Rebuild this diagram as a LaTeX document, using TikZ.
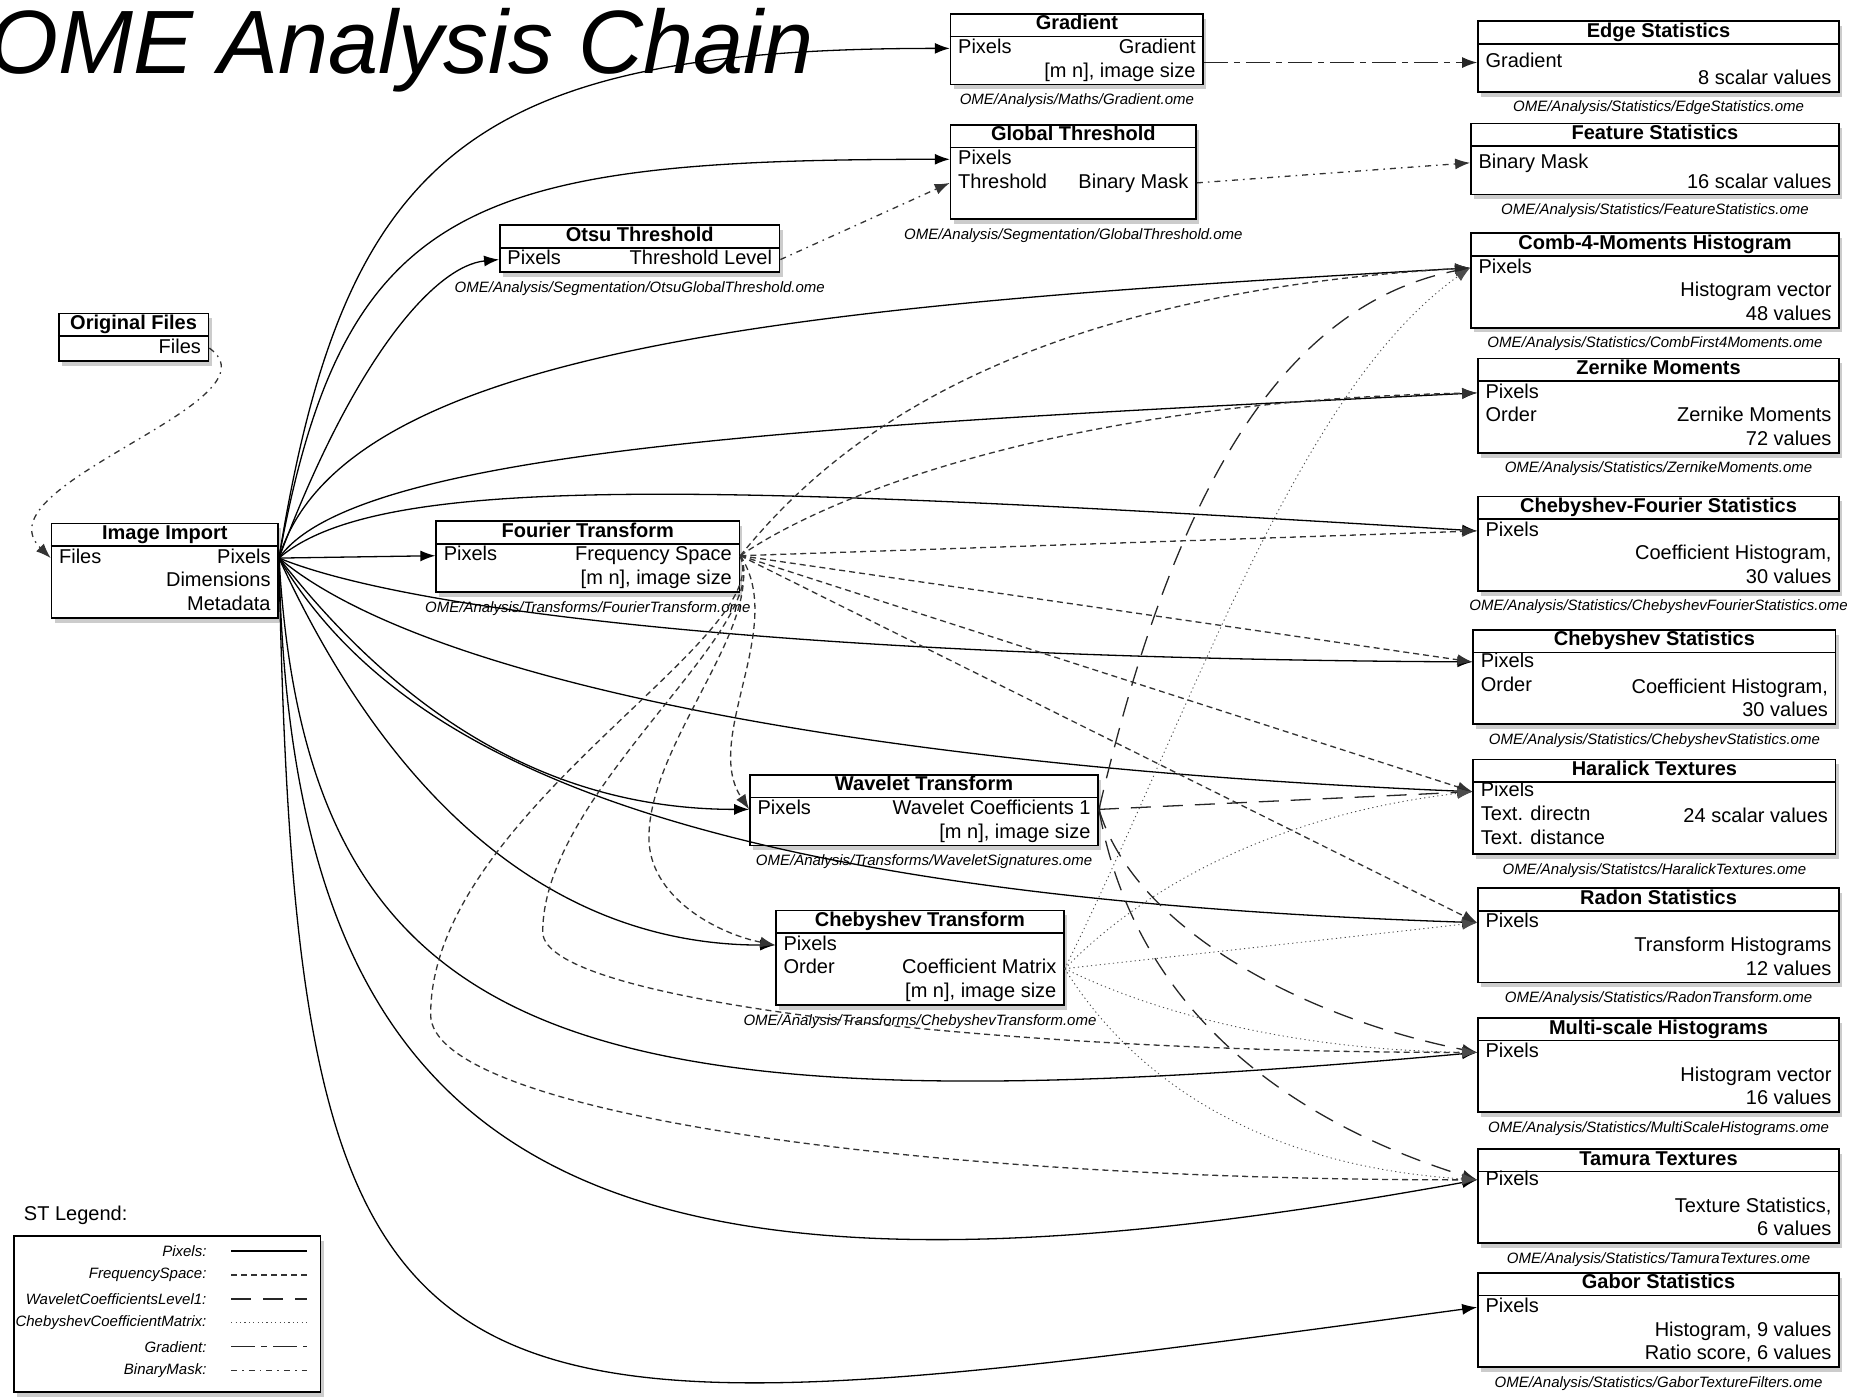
\documentclass[tikz,border=0pt]{standalone}
\usepackage{fontspec}
\setmainfont{Liberation Sans}
\usetikzlibrary{arrows.meta,shadows,calc,positioning}

\tikzset{
  modbox/.style={draw, line width=0.85pt, fill=white, inner sep=0pt,
    drop shadow={opacity=0.4, shadow xshift=1.5pt, shadow yshift=-2.4pt}},
  modtitle/.style={font=\fontsize{10}{12}\selectfont\bfseries, inner sep=0pt, text height=7.2pt, text depth=2pt},
  port/.style={font=\fontsize{10}{12}\selectfont, inner xsep=4pt, inner ysep=0pt, text height=7.2pt, text depth=2pt},
  modpath/.style={font=\fontsize{7.5}{9}\selectfont\itshape, inner sep=1pt},
  omefile/.style={label={[modpath, yshift=-3pt]below:#1}},
  pix/.style={->, line width=0.65pt},
  freq/.style={->, line width=0.65pt, black!80, dash pattern=on 3pt off 2pt},
  wave/.style={->, line width=0.65pt, black!85, dash pattern=on 10pt off 6pt},
  cheb/.style={->, line width=0.45pt, black!70, dash pattern=on 0.6pt off 1.6pt},
  grad/.style={->, line width=0.65pt, black!85, dash pattern=on 12pt off 3pt on 3pt off 3pt},
  mask/.style={->, line width=0.65pt, black!80, dash pattern=on 3pt off 2.5pt on 0.8pt off 2.5pt},
}

% box with a title row: [options]{name}{left}{top}{width}{rows}{title}
\newcommand\module[7][]{%
  \node[modbox, anchor=north west, minimum width=0.59pt*#5, minimum height=11.8pt*(#6+1), #1] (#2) at (#3,#4) {};
  \node[modtitle] (#2-title) at ($(#2.north)+(0,10)$) {#7};
  \draw[line width=0.85pt] ($(#2.north west)+(0,20)$) -- ($(#2.north east)+(0,20)$);
}
\newcommand\inport[4]{\node[port, anchor=west] (#1) at ($(#2.north west)+(0,{10+20*#3})$) {#4};}
\newcommand\outport[4]{\node[port, anchor=east] (#1) at ($(#2.north east)+(0,{10+20*#3})$) {#4};}

\begin{document}
\begin{tikzpicture}[x=0.59pt, y=-0.59pt, >={Latex[length=7.5pt,width=5.5pt]}]
    \useasboundingbox (0,0) rectangle (1568,1184);

    \node[font=\fontsize{45}{50}\selectfont\itshape, anchor=base west, inner sep=0pt] (title) at (-10,62) {OME Analysis Chain};

    % input side
    \module{orig}{49}{265}{127}{1}{Original Files}
    \outport{orig-f}{orig}{1}{Files}

    \module{ii}{43}{443}{192}{3}{Image Import}
    \inport{ii-f}{ii}{1}{Files}
    \outport{ii-pix}{ii}{1}{Pixels}
    \outport{ii-dim}{ii}{2}{Dimensions}
    \outport{ii-meta}{ii}{3}{Metadata}

    % transforms and thresholds
    \module[omefile=OME/Analysis/Maths/Gradient.ome]{gradient}{805}{11}{214}{2}{Gradient}
    \inport{gradient-pix}{gradient}{1}{Pixels}
    \outport{gradient-g}{gradient}{1}{Gradient}
    \outport{gradient-size}{gradient}{2}{[m n], image size}

    \module[omefile=OME/Analysis/Segmentation/GlobalThreshold.ome]{gthr}{805}{105}{208}{3}{Global Threshold}
    \inport{gthr-pix}{gthr}{1}{Pixels}
    \inport{gthr-th}{gthr}{2}{Threshold}
    \outport{gthr-bm}{gthr}{2}{Binary Mask}

    \module[omefile=OME/Analysis/Segmentation/OtsuGlobalThreshold.ome]{otsu}{423}{190}{237}{1}{Otsu Threshold}
    \inport{otsu-pix}{otsu}{1}{Pixels}
    \outport{otsu-tl}{otsu}{1}{Threshold Level}

    \module[omefile=OME/Analysis/Transforms/FourierTransform.ome]{ft}{369}{441}{257}{2}{Fourier Transform}
    \inport{ft-pix}{ft}{1}{Pixels}
    \outport{ft-fs}{ft}{1}{Frequency Space}
    \outport{ft-size}{ft}{2}{[m n], image size}

    \module[omefile=OME/Analysis/Transforms/WaveletSignatures.ome]{wt}{635}{656}{295}{2}{Wavelet Transform}
    \inport{wt-pix}{wt}{1}{Pixels}
    \outport{wt-wc}{wt}{1}{Wavelet Coefficients 1}
    \outport{wt-size}{wt}{2}{[m n], image size}

    \module[omefile=OME/Analysis/Transforms/ChebyshevTransform.ome]{ct}{657}{771}{244}{3}{Chebyshev Transform}
    \inport{ct-pix}{ct}{1}{Pixels}
    \inport{ct-ord}{ct}{2}{Order}
    \outport{ct-cm}{ct}{2}{Coefficient Matrix}
    \outport{ct-size}{ct}{3}{[m n], image size}

    % statistics column
    \module[omefile=OME/Analysis/Statistics/EdgeStatistics.ome]{es}{1252}{17}{306}{2}{Edge Statistics}
    \inport{es-g}{es}{1.3}{Gradient}
    \outport{es-val}{es}{2}{8 scalar values}

    \module[omefile=OME/Analysis/Statistics/FeatureStatistics.ome]{fs}{1246}{104}{312}{2}{Feature Statistics}
    \inport{fs-bm}{fs}{1.2}{Binary Mask}
    \outport{fs-val}{fs}{2.05}{16 scalar values}

    \module[omefile=OME/Analysis/Statistics/CombFirst4Moments.ome]{c4}{1246}{197}{312}{3}{Comb-4-Moments Histogram}
    \inport{c4-pix}{c4}{1}{Pixels}
    \outport{c4-hist}{c4}{2}{Histogram vector}
    \outport{c4-val}{c4}{3}{48 values}

    \module[omefile=OME/Analysis/Statistics/ZernikeMoments.ome]{zm}{1252}{303}{306}{3}{Zernike Moments}
    \inport{zm-pix}{zm}{1}{Pixels}
    \inport{zm-ord}{zm}{2}{Order}
    \outport{zm-mom}{zm}{2}{Zernike Moments}
    \outport{zm-val}{zm}{3}{72 values}

    \module[omefile=OME/Analysis/Statistics/ChebyshevFourierStatistics.ome]{cfs}{1252}{420}{306}{3}{Chebyshev-Fourier Statistics}
    \inport{cfs-pix}{cfs}{1}{Pixels}
    \outport{cfs-hist}{cfs}{2}{Coefficient Histogram,}
    \outport{cfs-val}{cfs}{3}{30 values}

    \module[omefile=OME/Analysis/Statistics/ChebyshevStatistics.ome]{cs}{1248}{533}{307}{3}{Chebyshev Statistics}
    \inport{cs-pix}{cs}{0.9}{Pixels}
    \inport{cs-ord}{cs}{1.95}{Order}
    \outport{cs-hist}{cs}{2}{Coefficient Histogram,}
    \outport{cs-val}{cs}{3}{30 values}

    \module[omefile=OME/Analysis/Statistcs/HaralickTextures.ome]{ht}{1248}{643}{307}{3}{Haralick Textures}
    \inport{ht-pix}{ht}{0.9}{Pixels}
    \inport{ht-dir}{ht}{1.9}{Text. directn}
    \inport{ht-dist}{ht}{2.9}{Text. distance}
    \outport{ht-val}{ht}{2}{24 scalar values}

    \module[omefile=OME/Analysis/Statistics/RadonTransform.ome]{rs}{1252}{752}{306}{3}{Radon Statistics}
    \inport{rs-pix}{rs}{1}{Pixels}
    \outport{rs-hist}{rs}{2}{Transform Histograms}
    \outport{rs-val}{rs}{3}{12 values}

    \module[omefile=OME/Analysis/Statistics/MultiScaleHistograms.ome]{mh}{1252}{862}{306}{3}{Multi-scale Histograms}
    \inport{mh-pix}{mh}{1}{Pixels}
    \outport{mh-hist}{mh}{2}{Histogram vector}
    \outport{mh-val}{mh}{3}{16 values}

    \module[omefile=OME/Analysis/Statistics/TamuraTextures.ome]{tt}{1252}{973}{306}{3}{Tamura Textures}
    \inport{tt-pix}{tt}{0.85}{Pixels}
    \outport{tt-stat}{tt}{2}{Texture Statistics,}
    \outport{tt-val}{tt}{3}{6 values}

    \module[omefile=OME/Analysis/Statistics/GaborTextureFilters.ome]{gs}{1252}{1078}{306}{3}{Gabor Statistics}
    \inport{gs-pix}{gs}{1}{Pixels}
    \outport{gs-hist}{gs}{2}{Histogram, 9 values}
    \outport{gs-ratio}{gs}{3}{Ratio score, 6 values}

    % legend
    \node[font=\fontsize{10}{12}\selectfont, anchor=west, inner sep=0pt] (legtitle) at (20,1030) {ST Legend:};
    \node[modbox, anchor=north west, minimum width=0.59pt*260, minimum height=0.59pt*132] (legend) at (11,1047) {};
    \foreach \lab/\sty [count=\i] in {Pixels/pix, FrequencySpace/freq, WaveletCoefficientsLevel1/wave,
        ChebyshevCoefficientMatrix/cheb, Gradient/grad, BinaryMask/mask}{
        \node[modpath, anchor=east] (leg\i) at (177,{1040+20.3*\i}) {\lab:};
        \coordinate (legs\i) at (196,{1040+20.3*\i});
        \coordinate (lege\i) at (260,{1040+20.3*\i});
        \draw[\sty, -] (legs\i) -- (lege\i);
    }

    % pixels out of the image import
    \foreach \dest/\ax/\ay/\bx/\by in {gradient/55/-343/-405/0, gthr/55/-303/-405/0, otsu/65/-173/-53/5,
        c4/55/-183/-546/31, zm/65/-93/-552/27, cfs/85/-73/-652/-40, cs/115/47/-548/-3,
        ht/115/97/-548/-23, wt/115/147/-155/0, rs/105/177/-652/-22, ct/95/207/-187/0,
        mh/25/427/-752/68, tt/10/527/-752/137, gs/15/777/-902/122}{
        \draw[pix] (ii-pix.east) .. controls +(\ax,\ay) and +(\bx,\by) .. (\dest-pix.west);
    }
    \draw[pix] (ii-pix.east) -- (ft-pix.west);

    % frequency space
    \foreach \dest/\ax/\ay/\bx/\by in {c4/74/-91/-396/23, zm/74/-51/-352/7, wt/40/60/-40/-60}{
        \draw[freq] (ft-fs.east) .. controls +(\ax,\ay) and +(\bx,\by) .. (\dest-pix.west);
    }
    \foreach \dest in {cfs, cs, ht, rs}{
        \draw[freq] (ft-fs.east) -- (\dest-pix.west);
    }
    \coordinate (loop-ct) at (550,710);
    \coordinate (loop-mh) at (460,790);
    \coordinate (loop-tt) at (365,860);
    \draw[freq] (ft-fs.east) .. controls +(20,60) and +(0,-80) .. (loop-ct) .. controls +(0,50) and +(-50,-10) .. (ct-pix.west);
    \draw[freq] (ft-fs.east) .. controls +(30,60) and +(0,-120) .. (loop-mh) .. controls +(0,60) and +(-400,0) .. (mh-pix.west);
    \draw[freq] (ft-fs.east) .. controls +(30,70) and +(0,-170) .. (loop-tt) .. controls +(0,80) and +(-500,0) .. (tt-pix.west);

    % wavelet coefficients
    \foreach \dest/\ax/\ay/\bx/\by in {c4/60/-256/-166/33, mh/30/100/-150/-30, tt/30/170/-160/-50}{
        \draw[wave] (wt-wc.east) .. controls +(\ax,\ay) and +(\bx,\by) .. (\dest-pix.west);
    }
    \draw[wave] (wt-wc.east) -- (ht-pix.west);

    % chebyshev coefficient matrix
    \foreach \dest/\ax/\ay/\bx/\by in {c4/109/-221/-146/103, ht/79/-81/-148/17, mh/79/39/-152/-2, tt/49/79/-202/-13}{
        \draw[cheb] (ct-cm.east) .. controls +(\ax,\ay) and +(\bx,\by) .. (\dest-pix.west);
    }
    \draw[cheb] (ct-cm.east) -- (rs-pix.west);

    % gradient and binary masks
    \draw[grad] (gradient.east |- es-g.west) -- (es-g.west);
    \draw[mask] (otsu-tl.east) -- (gthr-th.west);
    \draw[mask] (gthr-bm.east) -- (fs-bm.west);
    \draw[mask] (orig-f.east) .. controls +(64,46) and +(-63,-62) .. (ii-f.west);
\end{tikzpicture}
\end{document}
